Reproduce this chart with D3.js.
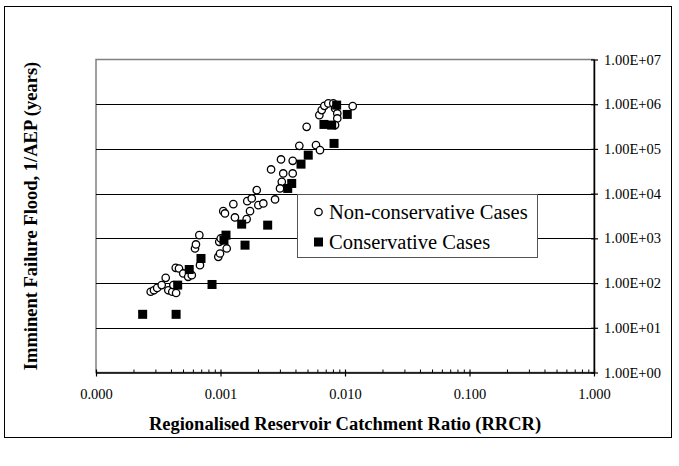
<!DOCTYPE html>
<html>
<head>
<meta charset="utf-8">
<script src="https://cdn.jsdelivr.net/npm/d3@7"></script>
<style>
  html, body { margin: 0; padding: 0; background: #fff; }
  svg { display: block; }
  text { font-family: "Liberation Serif", "Times New Roman", serif; fill: #000; }
</style>
</head>
<body>
<svg id="chart" width="679" height="466"></svg>
<script>
// ---- Data ----
const nonConsX = [0.000275,0.000292,0.000310,0.000337,0.000363,0.000381,0.000410,0.000440,0.000418,0.000437,
  0.000464,0.000502,0.000550,0.000588,0.000624,0.000635,0.000676,0.000684,0.000960,0.000991,
  0.000977,0.001004,0.001122,0.001052,0.001086,0.001268,0.001306,0.001622,0.001726,0.001640,
  0.001782,0.001954,0.002014,0.002208,0.002742,0.002548,0.003062,0.003802,0.003190,0.003802,
  0.003106,0.003006,0.004296,0.005848,0.006295,0.004920,0.006223,0.006502,0.006826,0.007345,
  0.008054,0.008318,0.008670,0.008670,0.008318,0.01153];
const nonConsY = [64,69,78,90,131,69,64,60,90,219,
  212,164,138,150,594,731,1180,251,386,459,
  835,995,594,4060,3606,5820,2935,2690,4060,6790,
  7810,11970,5530,6040,7420,34770,58230,54200,28300,28300,
  18370,13070,117300,121600,94000,312000,570000,738000,920000,1042000,
  1042000,805000,622000,481000,341000,906000];
const consX = [0.000237,0.000440,0.000453,0.000561,0.000697,0.000855,0.001107,0.001066,0.001479,0.001574,
  0.002393,0.003733,0.003467,0.004433,0.005067,0.008166,0.006776,0.007815,0.008570,0.01043];
const consY = [20,20,90,201,355,93,1180,912,2080,705,
  1974,16900,13070,45700,72600,132800,353000,341000,955000,591000];
const xTickValues = [0.0001, 0.001, 0.01, 0.1, 1];
const xTickLabels = ["0.000", "0.001", "0.010", "0.100", "1.000"];
const yTickValues = [1, 10, 100, 1000, 10000, 100000, 1000000, 10000000];
const yTickLabels = ["1.00E+00","1.00E+01","1.00E+02","1.00E+03","1.00E+04","1.00E+05","1.00E+06","1.00E+07"];
const seriesNames = ["Non-conservative Cases", "Conservative Cases"];
const xTitle = "Regionalised Reservoir Catchment Ratio (RRCR)";
const yTitle = "Imminent Failure Flood, 1/AEP (years)";

// ---- Layout ----
const svg = d3.select("#chart");
const L = 96, R = 594, T = 59.5, B = 372.5;

const x = d3.scaleLog().domain([0.0001, 1]).range([L, R]);
const y = d3.scaleLog().domain([1, 1e7]).range([B, T]);

// outer frame
svg.append("rect").attr("x", 4.5).attr("y", 6.5).attr("width", 667).attr("height", 431)
  .attr("fill", "#fff").attr("stroke", "#000").attr("stroke-width", 1);

// plot area border (gray)
svg.append("rect").attr("x", L).attr("y", T).attr("width", R - L).attr("height", B - T)
  .attr("fill", "none").attr("stroke", "#808080").attr("stroke-width", 1.5);

// gridlines
svg.append("g").selectAll("line").data(yTickValues.slice(1, -1)).join("line")
  .attr("x1", L).attr("x2", R)
  .attr("y1", d => Math.round(y(d)) + 0.5).attr("y2", d => Math.round(y(d)) + 0.5)
  .attr("stroke", "#000").attr("stroke-width", 1);

// x axis: minor ticks (inside, upward)
const minor = [];
for (let e = -4; e < 0; e++) for (let m = 2; m <= 9; m++) minor.push(m * Math.pow(10, e));
const xAxisMinor = d3.axisTop(x).tickValues(minor).tickSize(3).tickFormat("");
const gxm = svg.append("g").attr("transform", `translate(0,${B})`).call(xAxisMinor);
gxm.select(".domain").remove();
gxm.selectAll("line").attr("stroke", "#000");

const xAxis = d3.axisBottom(x).tickValues(xTickValues)
  .tickFormat((d, i) => xTickLabels[i]).tickSizeInner(4).tickSizeOuter(0).tickPadding(12);
const gx = svg.append("g").attr("transform", `translate(0,${B})`).call(xAxis);
gx.select(".domain").attr("stroke", "#000").attr("stroke-width", 1.5);
gx.selectAll(".tick line").attr("stroke", "#000").attr("y1", -3).attr("stroke-width", 1.2);
gx.selectAll("text").style("font-size", "14.5px").style("font-family", "Liberation Serif");

// y axis on right
const yAxis = d3.axisRight(y).tickValues(yTickValues)
  .tickFormat((d, i) => yTickLabels[i]).tickSizeInner(4).tickSizeOuter(0).tickPadding(6);
const gy = svg.append("g").attr("transform", `translate(${R},0)`).call(yAxis);
gy.select(".domain").attr("stroke", "#000").attr("stroke-width", 1.5);
gy.selectAll(".tick line").attr("stroke", "#000").attr("x1", -3).attr("stroke-width", 1.2);
gy.selectAll("text").style("font-size", "14.5px").style("font-family", "Liberation Serif");

// data: circles
const circ = nonConsX.map((v, i) => ({ x: v, y: nonConsY[i] }));
const sq = consX.map((v, i) => ({ x: v, y: consY[i] }));
const s = 9;
svg.append("g").selectAll("circle").data(circ).join("circle")
  .attr("cx", d => x(d.x)).attr("cy", d => y(d.y)).attr("r", 3.7)
  .attr("fill", "#fff").attr("stroke", "#000").attr("stroke-width", 1.3);
svg.append("g").selectAll("rect").data(sq).join("rect")
  .attr("x", d => x(d.x) - s / 2).attr("y", d => y(d.y) - s / 2)
  .attr("width", s).attr("height", s).attr("fill", "#000");

// legend
const lg = svg.append("g");
lg.append("rect").attr("x", 297.5).attr("y", 194.5).attr("width", 240).attr("height", 63)
  .attr("fill", "#fff").attr("stroke", "#555").attr("stroke-width", 1);
lg.append("circle").attr("cx", 318.5).attr("cy", 212).attr("r", 3.7)
  .attr("fill", "#fff").attr("stroke", "#000").attr("stroke-width", 1.3);
lg.append("rect").attr("x", 318.5 - s / 2).attr("y", 242 - s / 2).attr("width", s).attr("height", s).attr("fill", "#000");
lg.append("text").attr("x", 329).attr("y", 219).style("font-size", "20.5px").text(seriesNames[0]);
lg.append("text").attr("x", 329).attr("y", 249).style("font-size", "20.5px").text(seriesNames[1]);

// axis titles
svg.append("text").attr("x", (L + R) / 2).attr("y", 430).attr("text-anchor", "middle")
  .style("font-size", "18.5px").style("font-weight", "bold").text(xTitle);
svg.append("text").attr("transform", `translate(37,${(T + B) / 2}) rotate(-90)`)
  .attr("text-anchor", "middle").style("font-size", "18.5px").style("font-weight", "bold").text(yTitle);
</script>
</body>
</html>
